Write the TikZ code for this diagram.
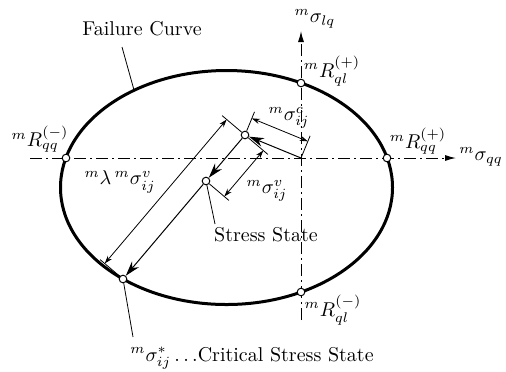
\documentclass[tikz,border=0pt]{standalone}
\usepackage{amsmath,amssymb}
\usepackage{tikz}
\usetikzlibrary{arrows.meta, calc}

\begin{document}
\begin{tikzpicture}[
    x=0.5pt, y=-0.5pt,
    curve/.style={line width=1.5pt},
    axis/.style={-{Latex[length=5.5pt,width=3pt]}, line width=0.5pt, dash pattern=on 6pt off 2pt on 1pt off 2pt},
    pt/.style={circle, draw, fill=white, inner sep=0pt, minimum size=3.8pt, line width=0.5pt},
    vec/.style={-{Stealth[length=7.5pt,width=4.5pt]}, line width=0.5pt},
    dim/.style={{Stealth[length=4pt,width=2.6pt]}-{Stealth[length=4pt,width=2.6pt]}, line width=0.4pt},
    ext/.style={line width=0.4pt},
    lbl/.style={inner sep=1pt}
]
\useasboundingbox (0,0) rectangle (506,371);

% Axes
\coordinate (O) at (301,158);
\coordinate (qql) at (30,158);
\coordinate (qqr) at (456,158);
\coordinate (lqb) at (301,320);
\coordinate (lqt) at (301,31);
\draw[axis] (qql) -- (qqr);
\draw[axis] (lqb) -- (lqt);

% Failure curve
\draw[curve] (226.5,187.5) ellipse [x radius=83pt, y radius=58.5pt];

% Points
\node[pt] (Rqqm) at (66,158) {};
\node[pt] (Rqqp) at (387,158) {};
\node[pt] (Rqlp) at (301,83) {};
\node[pt] (Rqlm) at (301,292) {};
\node[pt] (sc) at (245,135) {};
\node[pt] (sv) at (206,181) {};
\node[pt] (crit) at (123,279) {};

% sigma^c dimension
\coordinate (ce1) at ($(sc)!12.5pt!90:(O)$);
\coordinate (ce2) at ($(O)!12pt!-90:(sc)$);
\coordinate (cd1) at ($(sc)!9pt!90:(O)$);
\coordinate (cd2) at ($(O)!9pt!-90:(sc)$);
\draw[ext] (sc) -- (ce1);
\draw[ext] (O) -- (ce2);
\draw[dim] (cd1) -- (cd2);

% sigma^v dimension
\coordinate (ve1) at ($(sc)!15pt!90:(sv)$);
\coordinate (ve2) at ($(sv)!15pt!-90:(sc)$);
\coordinate (vd1) at ($(sc)!12pt!90:(sv)$);
\coordinate (vd2) at ($(sv)!12pt!-90:(sc)$);
\draw[ext] (sc) -- (ve1);
\draw[ext] (sv) -- (ve2);
\draw[dim] (vd1) -- (vd2);

% lambda dimension
\coordinate (le1) at ($(sc)!15pt!-90:(crit)$);
\coordinate (le2) at ($(crit)!15pt!90:(sc)$);
\coordinate (ld1) at ($(sc)!12pt!-90:(crit)$);
\coordinate (ld2) at ($(crit)!12pt!90:(sc)$);
\draw[ext] (sc) -- (le1);
\draw[ext] (crit) -- (le2);
\draw[dim] (ld1) -- (ld2);

% Vectors
\draw[vec] (O) -- (sc);
\draw[vec] (sc) -- (sv);
\draw[vec] (sv) -- (crit);

% Labels
\node[lbl] (slq) at (315,19) {${}^{m}\sigma_{lq}$};
\node[lbl, anchor=west] (sqq) at (457,157) {${}^{m}\sigma_{qq}$};
\node[lbl] (lRqlp) at (332,71) {${}^{m}R^{(+)}_{ql}$};
\node[lbl] (lRqlm) at (333,310) {${}^{m}R^{(-)}_{ql}$};
\node[lbl] (lRqqm) at (40,139) {${}^{m}R^{(-)}_{qq}$};
\node[lbl] (lRqqp) at (418,141) {${}^{m}R^{(+)}_{qq}$};
\node[lbl] (lc) at (289,118) {${}^{m}\sigma^{c}_{ij}$};
\node[lbl] (lv) at (267,191) {${}^{m}\sigma^{v}_{ij}$};
\node[lbl] (ll) at (120,182) {${}^{m}\lambda\,{}^{m}\sigma^{v}_{ij}$};
\node[lbl] (lss) at (266,235) {Stress State};
\node[lbl] (lfc) at (142,29) {Failure Curve};
\node[lbl] (lcr) at (252,358) {${}^{m}\sigma^{*}_{ij}\ldots$Critical Stress State};

% Leaders
\coordinate (fcs) at (122,47);
\coordinate (fce) at (134,90);
\coordinate (sse) at (215,224);
\coordinate (cre) at (133,337);
\draw[ext] (fcs) -- (fce);
\draw[ext] (sv) -- (sse);
\draw[ext] (crit) -- (cre);
\end{tikzpicture}
\end{document}
